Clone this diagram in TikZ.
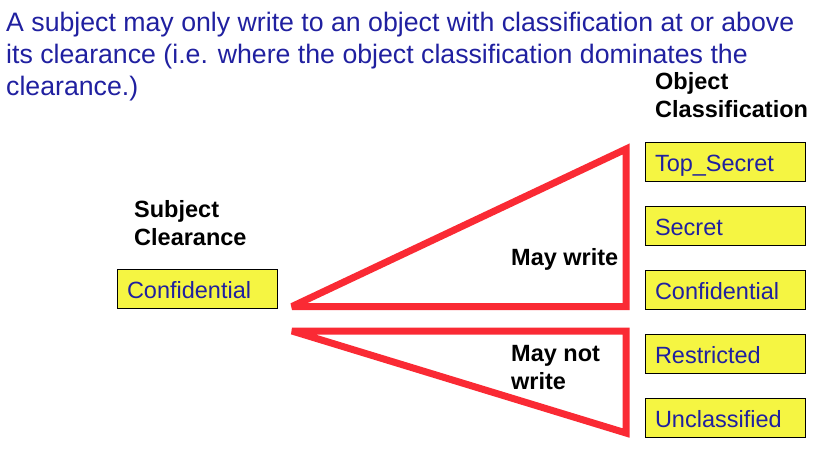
\documentclass[tikz,border=0pt]{standalone}
\usepackage{fontspec}
\setmainfont{Liberation Sans}
\usepackage{xcolor}
\usepackage{tikz}
\usetikzlibrary{positioning}

\definecolor{textblue}{RGB}{32,32,160}
\definecolor{levelyellow}{RGB}{245,245,66}
\definecolor{wedgered}{RGB}{250,42,52}

\begin{document}
\begin{tikzpicture}[x=1pt,y=-1pt,
    level/.style={draw=black,line width=1pt,fill=levelyellow,text=textblue,
        minimum height=39pt,text width=140pt,inner xsep=10pt,inner ysep=5pt,
        text height=24pt,text depth=5pt,align=left,
        font=\fontsize{23.5}{28}\selectfont},
    heading/.style={anchor=base west,align=left,
        font=\fontsize{23.5}{28}\selectfont\bfseries},
    wedge/.style={draw=wedgered,line width=7pt,line join=miter,miter limit=3}]
    \useasboundingbox (0,0) rectangle (825,448);

    % base anchors of the multi-line texts sit on their last line
    \node[anchor=base west,align=left,text=textblue,inner sep=0pt,
        font=\fontsize{26.7}{32}\selectfont] (rule) at (6,95)
        {A subject may only write to an object with classification at or above\\
         its clearance (i.e. where the object classification dominates the\\
         clearance.)};

    \node[heading,inner sep=0pt] (objhead) at (655,117) {Object\\Classification};
    \node[heading,inner sep=0pt] (subhead) at (134,245) {Subject\\Clearance};

    \node[level] (clear) at (197,288.5) {Confidential};

    \node[level] (topsecret) at (725,161.5) {Top\_Secret};
    \node[level,below=24pt of topsecret] (secret) {Secret};
    \node[level,below=24pt of secret] (confidential) {Confidential};
    \node[level,below=24pt of confidential] (restricted) {Restricted};
    \node[level,below=24pt of restricted] (unclassified) {Unclassified};

    \coordinate (upapex) at (292,306.5);
    \coordinate (uptop) at (626,149);
    \coordinate (upfoot) at (626,306.5);
    \coordinate (loapex) at (292,331);
    \coordinate (lohead) at (626,331);
    \coordinate (lotip) at (626,433);

    \draw[wedge] (upapex) -- (uptop) -- (upfoot) -- cycle;
    \draw[wedge] (loapex) -- (lohead) -- (lotip) -- cycle;

    \node[heading,inner sep=0pt] (maywrite) at (511,265) {May write};
    \node[heading,inner sep=0pt] (maynot) at (511,389) {May not\\write};
\end{tikzpicture}
\end{document}
